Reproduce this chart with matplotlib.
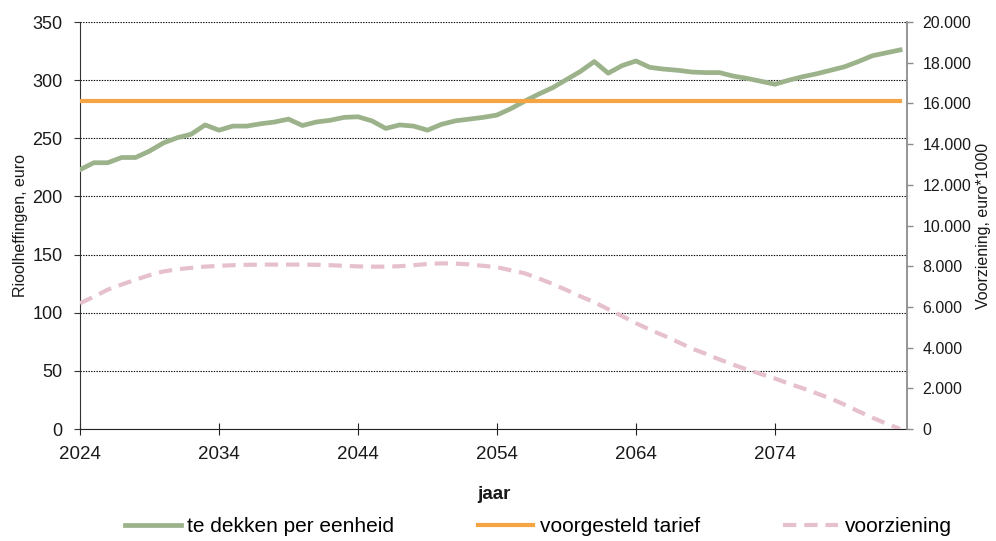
import matplotlib
matplotlib.use("Agg")
import matplotlib.pyplot as plt
from matplotlib.ticker import FuncFormatter, MultipleLocator

plt.rcParams['font.family'] = ['Liberation Sans', 'DejaVu Sans']

years = list(range(2024, 2084))

te_dekken = [
    223, 229, 229, 233.5, 233.5, 239, 246, 250.5, 253.5, 261.5,
    257, 260.5, 260.5, 262.5, 264, 266.5, 261, 264, 265.5, 268,
    268.5, 265, 258.5, 261.5, 260.5, 257, 262, 265, 266.5, 268,
    270, 275.5, 282, 288, 293.5, 300.5, 307.5, 316, 306, 312.5,
    316.5, 311, 309.5, 308.5, 307, 306.5, 306.5, 303.5, 301.5, 299,
    296.5, 300, 303, 305.5, 308.5, 311.5, 316, 321, 323.5, 326,
]

voorgesteld_tarief = [282] * len(years)

voorziening = [
    6180, 6500, 6850, 7100, 7340, 7560, 7740, 7850, 7920, 7980,
    8020, 8050, 8070, 8080, 8080, 8080, 8080, 8070, 8050, 8020,
    7990, 7980, 7980, 8000, 8050, 8110, 8140, 8130, 8090, 8020,
    7950, 7800, 7650, 7400, 7130, 6830, 6520, 6230, 5890, 5550,
    5200, 4880, 4590, 4280, 3960, 3700, 3420, 3160, 2920, 2700,
    2480, 2230, 2000, 1750, 1500, 1200, 870, 560, 270, 0,
]

green = '#9BB28A'
orange = '#F5A443'
pink = '#E6C0CC'

fig = plt.figure(figsize=(9.96, 5.41), dpi=100)
ax = fig.add_axes([0.0803, 0.2070, 0.8304, 0.7523])
ax2 = ax.twinx()

ax.plot(years, te_dekken, color=green, lw=3.4, solid_joinstyle='round',
        label='te dekken per eenheid', zorder=3)
ax.plot(years, voorgesteld_tarief, color=orange, lw=3.0,
        label='voorgesteld tarief', zorder=3)
ax2.plot(years, voorziening, color=pink, lw=3.0, linestyle=(0, (3.2, 1.9)),
         label='voorziening', zorder=3)

ax.set_xlim(2024, 2083.5)
ax.set_ylim(0, 350)
ax2.set_ylim(0, 20000)

ax.yaxis.set_major_locator(MultipleLocator(50))
ax.set_xticks([2024, 2034, 2044, 2054, 2064, 2074])
ax2.yaxis.set_major_locator(MultipleLocator(2000))
ax2.yaxis.set_major_formatter(FuncFormatter(lambda v, p: f"{int(v):,}".replace(",", ".")))

ax.grid(axis='y', color='black', linestyle=(0, (1.2, 1.2)), lw=0.8)
ax.set_axisbelow(True)

for s in ['top', 'right']:
    ax.spines[s].set_visible(False)
ax.spines['left'].set_color('#333333')
ax.spines['bottom'].set_color('#222222')
for s in ['top', 'left', 'bottom']:
    ax2.spines[s].set_visible(False)
ax2.spines['right'].set_color('#8C8C8C')
ax2.spines['right'].set_linewidth(1.3)

ax.tick_params(axis='y', direction='out', length=4.5, width=0.8, pad=8,
               labelsize=13, color='#333333', labelcolor='#1a1a1a')
ax.tick_params(axis='x', direction='inout', length=8, width=0.8, pad=8,
               labelsize=13.5, color='#222222', labelcolor='#1a1a1a')
ax2.tick_params(axis='y', direction='out', length=4, width=1.0, pad=7,
                labelsize=11.5, color='#8C8C8C', labelcolor='#1a1a1a')

ax.set_ylabel('Rioolheffingen, euro', fontsize=11.5, color='#1a1a1a', labelpad=3)
ax2.set_ylabel('Voorziening, euro*1000', fontsize=11.5, color='#1a1a1a', labelpad=3)
ax.set_xlabel('jaar', fontsize=13.5, fontweight='bold', color='#1a1a1a', labelpad=17)

h1, l1 = ax.get_legend_handles_labels()
h2, l2 = ax2.get_legend_handles_labels()
fig.legend(h1 + h2, l1 + l2, loc='center', bbox_to_anchor=(0.541, 0.027),
           ncol=3, frameon=False, fontsize=15, handlelength=2.65,
           handletextpad=0.33, columnspacing=4.0, borderpad=0.0)

fig.savefig('out.png', dpi=100)
